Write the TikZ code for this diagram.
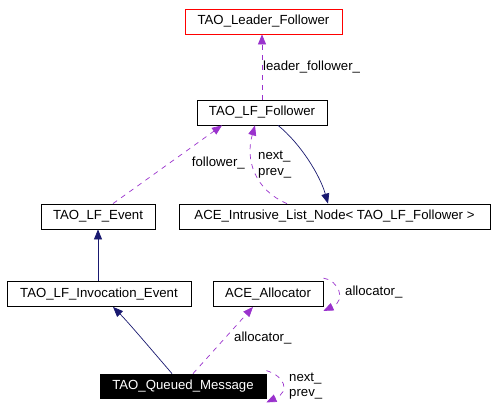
\documentclass[tikz,border=0pt]{standalone}
\usepackage{fontspec}
\setmainfont{Liberation Sans}
\usetikzlibrary{arrows.meta,calc}
\definecolor{edgepurple}{HTML}{9A32CD}
\definecolor{edgenavy}{HTML}{191970}
\begin{document}
\begin{tikzpicture}[x=1pt,y=-1pt,
  font=\fontsize{13.2}{15.5}\selectfont,
  box/.style={draw=black,line width=0.8pt,inner sep=0pt,minimum height=25pt,fill=white},
  lbl/.style={inner sep=0pt,align=left},
  use/.style={draw=edgepurple,line width=0.7pt,dash pattern=on 5pt off 5pt,
    -{Triangle[length=10pt,width=8pt,fill=edgepurple]}},
  inh/.style={draw=edgenavy,line width=0.7pt,
    -{Triangle[length=10pt,width=8pt,fill=edgenavy]}}]
\path[use as bounding box,fill=white] (0,0) rectangle (496,407);

\node[box,draw=red,minimum width=157pt] (lf) at (263.5,21.5) {TAO\_Leader\_Follower};
\node[box,minimum width=130pt] (fol) at (262,112.5) {TAO\_LF\_Follower};
\node[box,minimum width=311pt] (intr) at (334.5,216.5) {ACE\_Intrusive\_List\_Node< TAO\_LF\_Follower >};
\node[box,minimum width=114pt] (ev) at (98,216.5) {TAO\_LF\_Event};
\node[box,minimum width=184pt] (inv) at (99,294) {TAO\_LF\_Invocation\_Event};
\node[box,minimum width=110pt] (al) at (268,294) {ACE\_Allocator};
\node[box,fill=black,text=white,minimum width=166pt,minimum height=24pt] (qm) at (183,386) {TAO\_Queued\_Message};

% Follower -> Leader_Follower
\draw[use] (fol.north) -- (fol.north |- lf.south);
\node[lbl,anchor=west] (l1) at (263,67) {leader\_follower\_};

% Follower -> Intrusive (inheritance)
\draw[inh] ([xshift=16pt]fol.south) .. controls (300,143) and (320,175) .. ([xshift=-6.5pt]intr.north);

% Intrusive -> Follower (next_/prev_)
\draw[use] ([xshift=-47.5pt]intr.north) .. controls (255,190) and (245,160) .. ([xshift=-7pt]fol.south);
\node[lbl,anchor=west] (l2) at (258,164.5) {next\_\\prev\_};

% Event -> Follower
\draw[use] ([xshift=15pt]ev.north) -- ([xshift=-40pt]fol.south);
\node[lbl,anchor=east] (l3) at (245,163) {follower\_};

% Invocation_Event -> Event
\draw[inh] (inv.north -| ev.south) -- (ev.south);

% Queued_Message -> Invocation_Event
\draw[inh] ([xshift=-11pt]qm.north) .. controls (150,348) and (128,322) .. ([xshift=14pt]inv.south);

% Queued_Message -> Allocator
\draw[use] ([xshift=10pt]qm.north) -- ([xshift=-15pt]al.south);
\node[lbl,anchor=west] (l4) at (234,338) {allocator\_};

% Allocator self loop
\draw[use] ([yshift=3pt]al.north east) .. controls (338,280) and (347,300) .. ([yshift=-4pt]al.south east);
\node[lbl,anchor=west] (l5) at (345,292) {allocator\_};

% Queued_Message self loop
\draw[use] ([yshift=3pt]qm.north east) .. controls (284,376) and (291,391) .. ([yshift=-4pt]qm.south east);
\node[lbl,anchor=west] (l6) at (289,386) {next\_\\prev\_};
\end{tikzpicture}
\end{document}
